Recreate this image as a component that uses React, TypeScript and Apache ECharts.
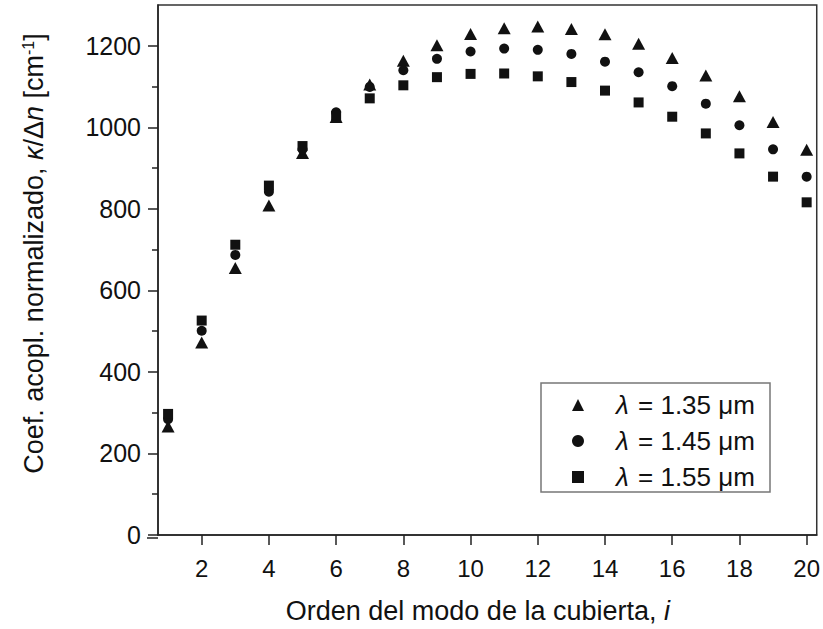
import React, { useEffect, useRef } from "react";
import * as echarts from "echarts";

const modeOrder = [1, 2, 3, 4, 5, 6, 7, 8, 9, 10, 11, 12, 13, 14, 15, 16, 17, 18, 19, 20];
const kappa135 = [266, 472, 655, 808, 937, 1025, 1105, 1163, 1201, 1229, 1243, 1247, 1241, 1228, 1205, 1170, 1127, 1076, 1013, 945];
const kappa145 = [284, 501, 687, 842, 946, 1037, 1099, 1140, 1168, 1186, 1193, 1190, 1180, 1161, 1135, 1101, 1058, 1005, 946, 879];
const kappa155 = [297, 526, 712, 857, 954, 1028, 1071, 1103, 1123, 1131, 1132, 1125, 1111, 1090, 1061, 1026, 985, 936, 879, 816];
const seriesNames = ["λ = 1.35 μm", "λ = 1.45 μm", "λ = 1.55 μm"];
const xTicks = [2, 4, 6, 8, 10, 12, 14, 16, 18, 20];
const yTicks = [0, 200, 400, 600, 800, 1000, 1200];
const yMinorTicks = [100, 300, 500, 700, 900, 1100];

const FONT = "'Liberation Sans', Arial, Helvetica, sans-serif";
const INK = "#111";

function pairs(values: number[]) {
  return modeOrder.map((x, i) => [x, values[i]]);
}

export default function App() {
  const ref = useRef<HTMLDivElement>(null);
  useEffect(() => {
    if (!ref.current) return;
    const chart = echarts.init(ref.current, null, { renderer: "svg" });
    const grid = { left: 158, right: 3, top: 5, bottom: 91 };
    chart.setOption({
      animation: false,
      backgroundColor: "#fff",
      textStyle: { fontFamily: FONT, color: INK },
      grid: { ...grid, show: true, borderColor: "#333", borderWidth: 1.5, backgroundColor: "transparent" },
      xAxis: {
        type: "value",
        min: 0.7,
        max: 20.3,
        name: "{r|Orden del modo de la cubierta, }{i|i}",
        nameLocation: "middle",
        nameGap: 62,
        nameTextStyle: {
          fontFamily: FONT,
          color: INK,
          fontSize: 27,
          rich: {
            r: { fontFamily: FONT, fontSize: 27, color: INK },
            i: { fontFamily: FONT, fontSize: 27, color: INK, fontStyle: "italic", padding: [0, 19, 0, 0] },
          },
        },
        axisLine: { show: true, onZero: false, lineStyle: { color: "#222", width: 1.5 } },
        axisTick: { show: true, inside: false, length: 10, customValues: xTicks, lineStyle: { color: "#222", width: 1.5 } },
        axisLabel: { show: true, customValues: xTicks, margin: 21, fontSize: 24, fontFamily: FONT, color: INK },
        splitLine: { show: false },
      },
      yAxis: [
        {
          type: "value",
          min: 0,
          max: 1300,
          name: "{r0|Coef. acopl. normalizado, }{i|κ}{r|/Δ}{i|n}{r| [cm}{s|-1}{r|]}",
          nameLocation: "middle",
          nameRotate: 90,
          nameGap: 111,
          nameTextStyle: {
            fontFamily: FONT,
            color: INK,
            fontSize: 27,
            rich: {
              r0: { fontFamily: FONT, fontSize: 27, color: INK, padding: [0, 0, 0, 33] },
              r: { fontFamily: FONT, fontSize: 27, color: INK },
              i: { fontFamily: FONT, fontSize: 27, color: INK, fontStyle: "italic" },
              s: { fontFamily: FONT, fontSize: 16, color: INK, verticalAlign: "top" },
            },
          },
          axisLine: { show: true, onZero: false, lineStyle: { color: "#222", width: 1.5 } },
          axisTick: { show: true, inside: false, length: 10, customValues: yTicks, lineStyle: { color: "#222", width: 1.5 } },
          axisLabel: {
            show: true,
            customValues: yTicks,
            margin: 17,
            fontSize: 25,
            fontFamily: FONT,
            color: INK,
            formatter: (v: number) => String(v),
          },
          splitLine: { show: false },
        },
        {
          type: "value",
          min: 0,
          max: 1300,
          position: "left",
          axisLine: { show: false },
          axisTick: { show: true, inside: false, length: 6, customValues: yMinorTicks, lineStyle: { color: "#222", width: 1.5 } },
          axisLabel: { show: false },
          splitLine: { show: false },
        },
      ],
      legend: {
        orient: "vertical",
        left: 572,
        top: 392,
        padding: 0,
        itemWidth: 12,
        itemHeight: 12,
        itemGap: 10,
        selectedMode: false,
        data: seriesNames,
        formatter: (name: string) => `{l|λ}{t|${name.slice(1)}}`,
        textStyle: {
          fontFamily: FONT,
          fontSize: 26,
          color: INK,
          lineHeight: 26,
          rich: {
            l: { fontFamily: FONT, fontSize: 26, color: INK, fontStyle: "italic", padding: [0, 2, 0, 27], lineHeight: 26 },
            t: { fontFamily: FONT, fontSize: 26, color: INK, lineHeight: 26 },
          },
        },
      },
      graphic: [
        {
          type: "rect",
          shape: { x: 541, y: 383, width: 229, height: 109 },
          style: { fill: "none", stroke: "#777", lineWidth: 1.5 },
          z: 5,
        },
        {
          type: "line",
          shape: { x1: 147, y1: 538, x2: 158, y2: 538 },
          style: { stroke: "#222", lineWidth: 1.5 },
        },
      ],
      series: [
        {
          name: seriesNames[0],
          type: "scatter",
          symbol: "triangle",
          symbolSize: [13, 12],
          itemStyle: { color: INK, opacity: 1 },
          data: pairs(kappa135),
          z: 3,
        },
        {
          name: seriesNames[1],
          type: "scatter",
          symbol: "circle",
          symbolSize: 10,
          itemStyle: { color: INK, opacity: 1 },
          data: pairs(kappa145),
          z: 3,
        },
        {
          name: seriesNames[2],
          type: "scatter",
          symbol: "rect",
          symbolSize: 10,
          itemStyle: { color: INK, opacity: 1 },
          data: pairs(kappa155),
          z: 3,
        },
      ],
    });
    return () => chart.dispose();
  }, []);
  return (
    <div
      ref={ref}
      style={{ position: "fixed", left: 0, top: 0, width: 823, height: 629, background: "#fff" }}
    />
  );
}
